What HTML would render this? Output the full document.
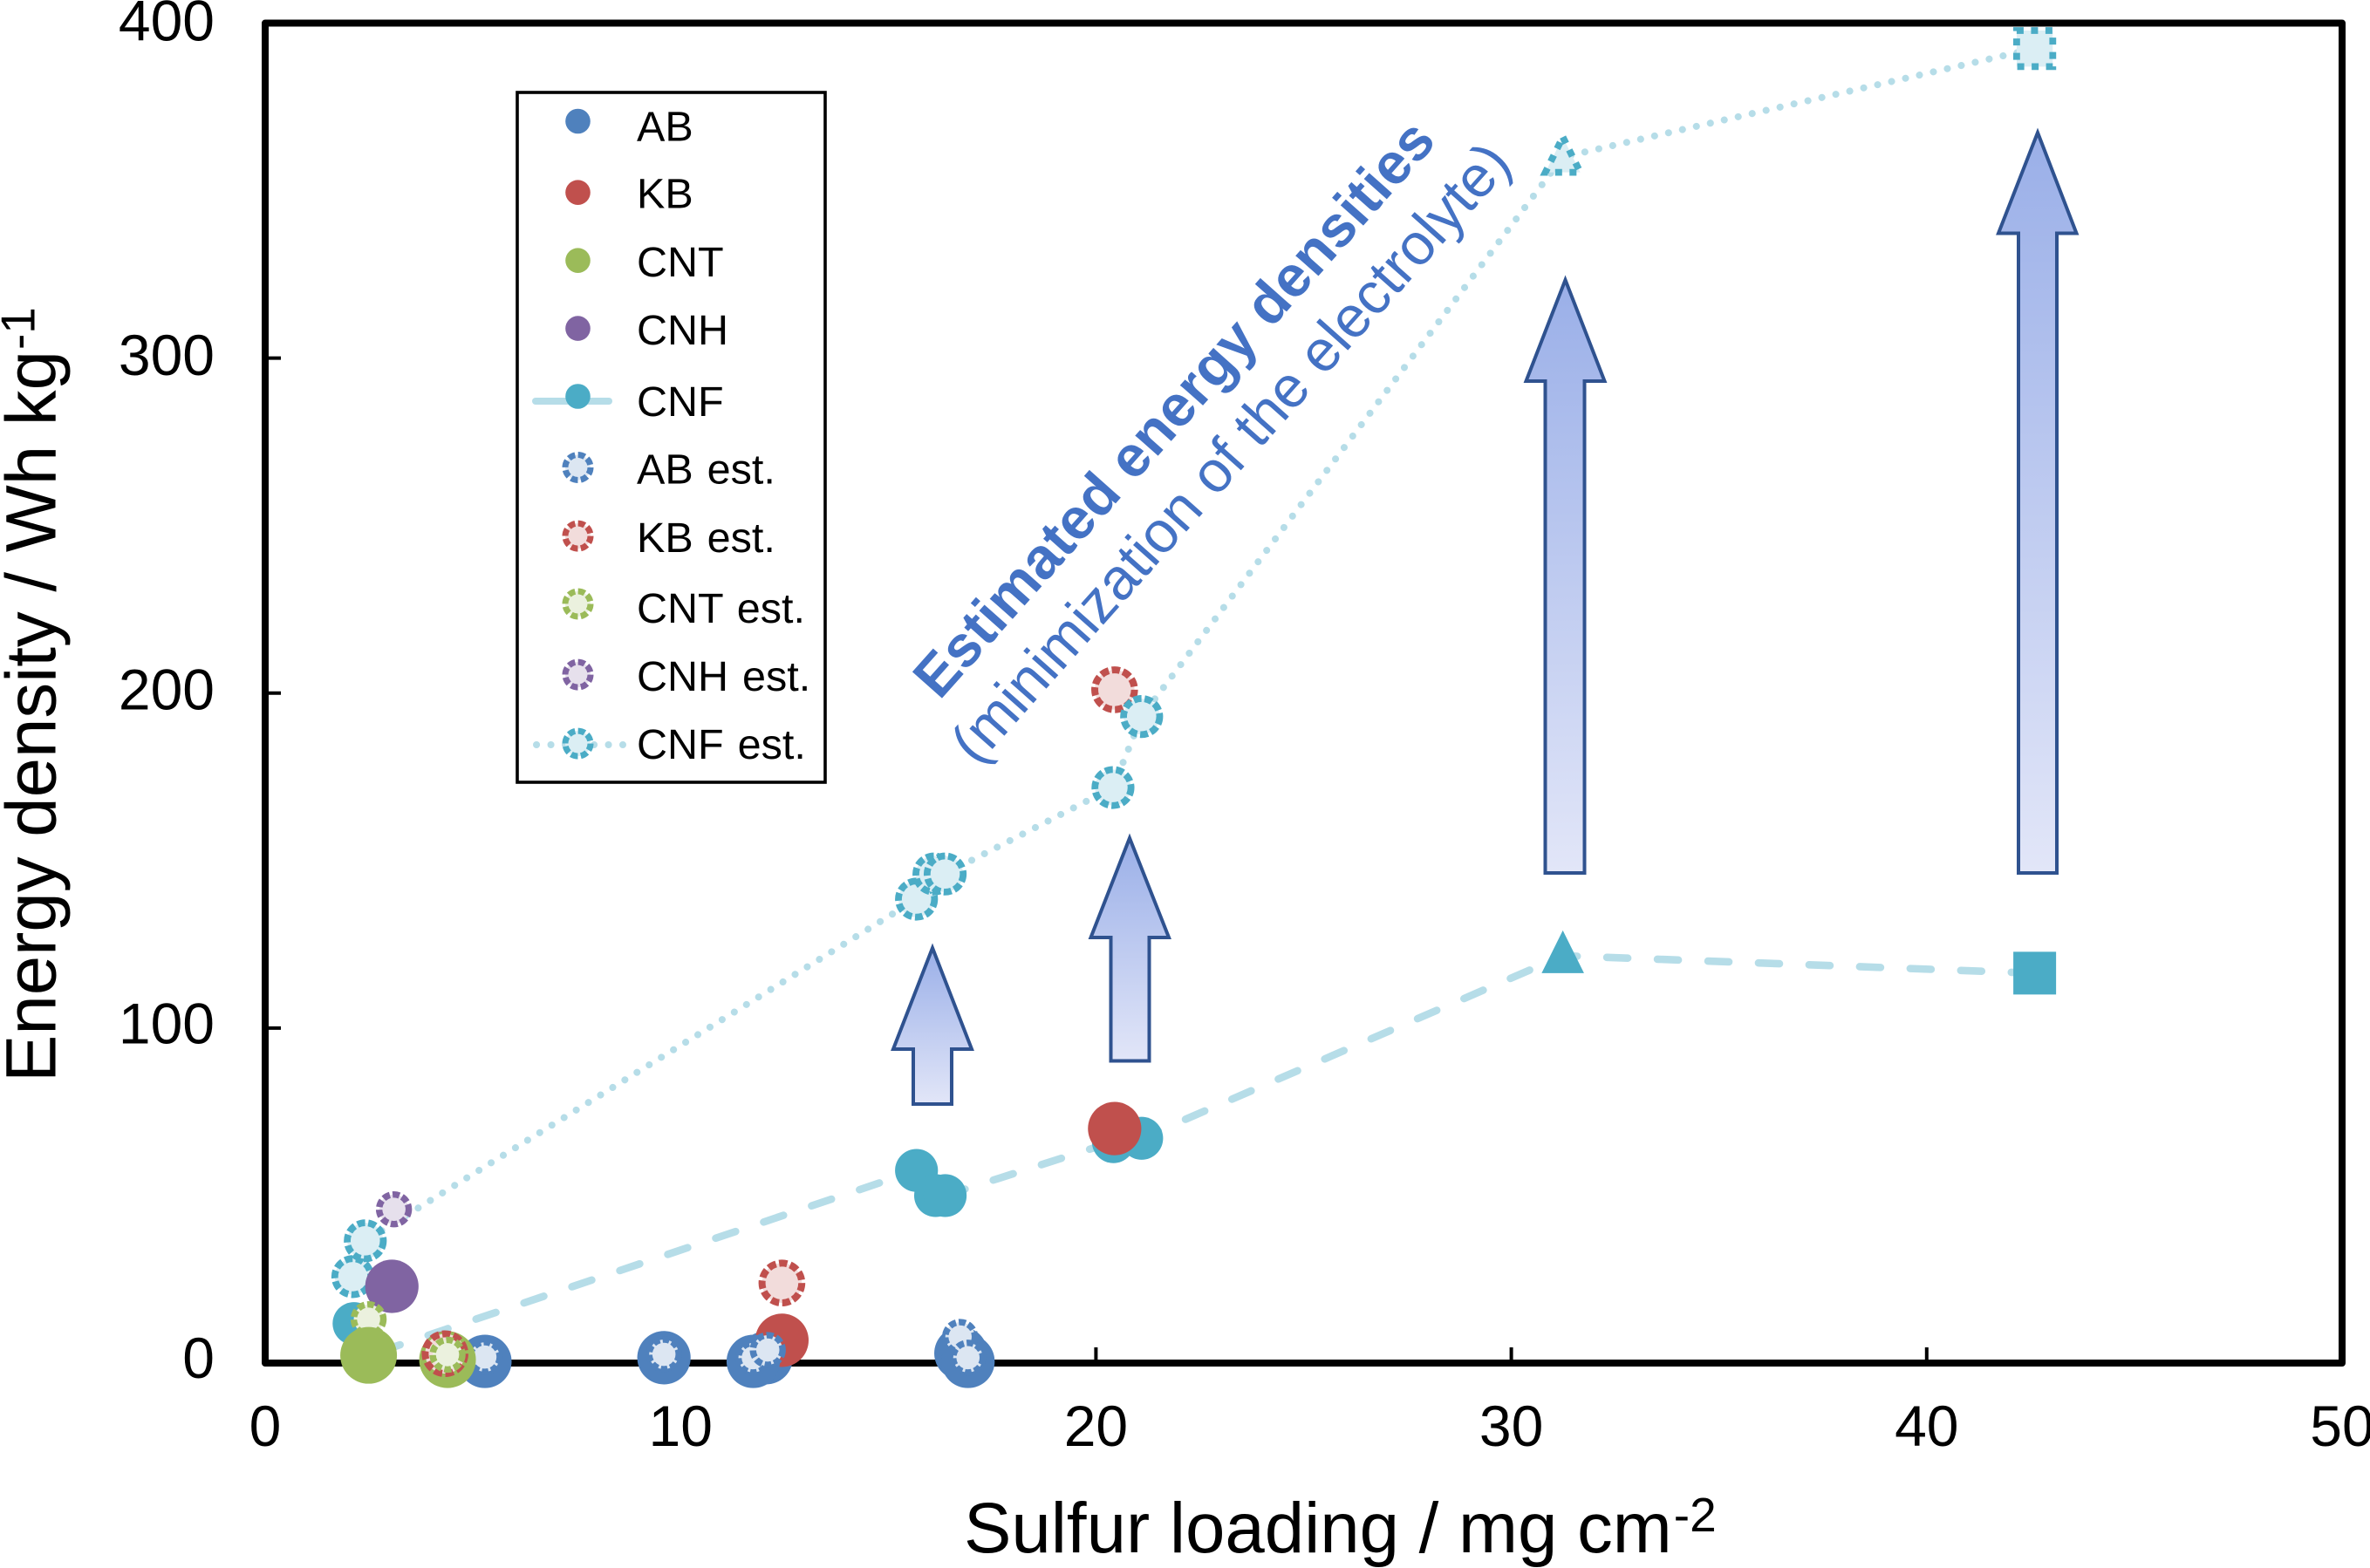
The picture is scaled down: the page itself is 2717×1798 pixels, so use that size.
<!DOCTYPE html>
<html lang="en">
<head>
<meta charset="utf-8">
<title>Energy density vs sulfur loading</title>
<style>
html,body{margin:0;padding:0;background:#fff;width:2717px;height:1798px;overflow:hidden}
svg{display:block;font-family:"Liberation Sans",Arial,sans-serif}
</style>
</head>
<body>
<svg id="chart" xmlns="http://www.w3.org/2000/svg" width="2717" height="1798" viewBox="0 0 2717 1798">
  <defs>
    <linearGradient id="arrowGrad" x1="0" y1="0" x2="0" y2="1">
      <stop offset="0" stop-color="#9aafe8"/>
      <stop offset="1" stop-color="#e2e6f8"/>
    </linearGradient>
  </defs>
  <rect width="2717" height="1798" fill="#fff"/>
  <g id="lines"></g>
  <g id="ticks"></g>
  <g id="arrows">
    <path d="M1069 1087L1114 1203H1091V1266H1047V1203H1024Z" fill="url(#arrowGrad)" stroke="#2f528f" stroke-width="4"/>
    <path d="M1295 961L1340 1075H1317.5V1216.5H1273.5V1075H1250.5Z" fill="url(#arrowGrad)" stroke="#2f528f" stroke-width="4"/>
    <path d="M1794.5 321L1839.5 437H1816.5V1001H1771.5V437H1749.5Z" fill="url(#arrowGrad)" stroke="#2f528f" stroke-width="4"/>
    <path d="M2336 152L2380.5 267.5H2358V1001H2314V267.5H2291Z" fill="url(#arrowGrad)" stroke="#2f528f" stroke-width="4"/>
  </g>
  <rect x="304" y="26.5" width="2381" height="1536.5" fill="none" stroke="#000" stroke-width="8" stroke-linejoin="round"/>
  <g id="marks"></g>

  <g id="tickLabels" font-size="66" fill="#000"></g>

  <text x="1105" y="1780" font-size="81.6" fill="#000">Sulfur loading / mg cm<tspan font-size="55" dx="2" dy="-24">-2</tspan></text>
  <text transform="translate(63.5 1241) rotate(-90)" x="0" y="0" font-size="81.6" fill="#000">Energy density / Wh kg<tspan font-size="55" dx="1" dy="-24">-1</tspan></text>

  <text transform="translate(1077 804) rotate(-48.3)" font-size="66.3" font-weight="700" fill="#4472c4">Estimated energy densities</text>
  <text transform="translate(1120 879) rotate(-48.3)" font-size="66.8" fill="#4472c4">(minimization of the electrolyte)</text>

  <g>
    <rect x="593" y="106" width="353" height="791" fill="#fff" stroke="#000" stroke-width="3.6"/>
    <line x1="614" y1="460" x2="698" y2="460" stroke="#b6dde8" stroke-width="8" stroke-linecap="round"/>
    <line x1="615" y1="854" x2="714" y2="854" stroke="#b6dde8" stroke-width="8" stroke-linecap="round" stroke-dasharray="0.1 16.4"/>

    <circle cx="662.5" cy="139" r="14.3" fill="#4f81bd"/>
    <circle cx="662.5" cy="220.7" r="14.3" fill="#c0504d"/>
    <circle cx="662.5" cy="298.7" r="14.3" fill="#9bbb59"/>
    <circle cx="662.5" cy="376.6" r="14.3" fill="#8064a2"/>
    <circle cx="662.5" cy="454.5" r="14.3" fill="#4bacc6"/>
    <circle cx="662.5" cy="536" r="14.5" fill="#dce6f2" stroke="#4f81bd" stroke-width="7" stroke-dasharray="8 3.4"/>
    <circle cx="662.5" cy="614.6" r="14.5" fill="#f2dcdb" stroke="#c0504d" stroke-width="7" stroke-dasharray="8 3.4"/>
    <circle cx="662.5" cy="692.5" r="14.5" fill="#ebf1de" stroke="#9bbb59" stroke-width="7" stroke-dasharray="8 3.4"/>
    <circle cx="662.5" cy="773.6" r="14.5" fill="#e6e0ec" stroke="#8064a2" stroke-width="7" stroke-dasharray="8 3.4"/>
    <circle cx="662.5" cy="852.6" r="14.5" fill="#dbeef4" stroke="#4bacc6" stroke-width="7" stroke-dasharray="8 3.4"/>

    <g font-size="48.5" fill="#000" word-spacing="2.5">
      <text x="730" y="161.5">AB</text>
      <text x="730" y="238.5">KB</text>
      <text x="730" y="317">CNT</text>
      <text x="730" y="395">CNH</text>
      <text x="730" y="477">CNF</text>
      <text x="730" y="554.5">AB est.</text>
      <text x="730" y="633">KB est.</text>
      <text x="730" y="714">CNT est.</text>
      <text x="730" y="792">CNH est.</text>
      <text x="730" y="870">CNF est.</text>
    </g>
  </g>
</svg>
<script>
// Axis tick labels
const xTickValues = [0, 10, 20, 30, 40, 50];
const yTickValues = [0, 100, 200, 300, 400];

// Measured series: sulfur loading (mg cm-2) and energy density (Wh kg-1)
const abX = [5.29, 9.60, 11.75, 12.06, 16.75, 16.92];
const abY = [0.5, 1.6, 0.5, 1.6, 2.9, 0.5];
const kbX = [4.37, 12.44, 20.45];
const kbY = [1.6, 6.8, 70];
const cntX = [2.49, 4.39];
const cntY = [2.3, 1.0];
const cnhX = [3.05];
const cnhY = [22.9];
const cnfX = [2.14, 2.49, 15.68, 16.14, 16.37, 20.42, 21.10, 31.24, 42.60];
const cnfY = [11.8, 2.3, 57.5, 50, 50, 66.1, 67.1, 121.6, 116.4];

// Estimated series
const abEstX = [5.29, 9.60, 11.75, 12.10, 16.73, 16.92];
const abEstY = [1.8, 2.6, 1.6, 3.9, 7.8, 1.6];
const kbEstX = [4.33, 12.44, 20.45];
const kbEstY = [2.8, 23.9, 201];
const cntEstX = [2.49, 4.39];
const cntEstY = [13.1, 2.5];
const cnhEstX = [3.10];
const cnhEstY = [45.9];
const cnfEstX = [2.11, 2.41, 15.68, 16.10, 16.37, 20.41, 21.10, 31.24, 42.60];
const cnfEstY = [25.8, 36.5, 138.5, 146, 146, 171.8, 193, 360, 392.4];

// Marker shape per CNF point (the same for the estimates)
const cnfShapes = ['circle','circle','circle','circle','circle','circle','circle','triangle','square'];

// Which CNF points the connecting lines run through (point indices)
const cnfLinePoints = [1, 2, 3, 4, 5, 6, 7, 8];
const cnfEstLinePoints = [0, 1, 2, 3, 4, 5, 6, 7, 8];

// Painter's order of the markers, "series:index"
const drawOrder = [
  'cnf:0','cnf:1','cnf:2','cnf:3','cnf:4','cnf:5','cnf:6','cnf:7','cnf:8',
  'ab:3','kb:0','kb:1','kb:2','ab:0','ab:1','ab:2','ab:4','ab:5',
  'kbEst:1','kbEst:2',
  'cnfEst:0','cnfEst:1','cnfEst:2','cnfEst:3','cnfEst:4','cnfEst:5','cnfEst:6','cnfEst:7','cnfEst:8',
  'abEst:0','abEst:1','abEst:2','abEst:4','abEst:5','abEst:3',
  'cnh:0','cnhEst:0','cntEst:0','cnt:0','cnt:1','kbEst:0','cntEst:1'
];

const NS = 'http://www.w3.org/2000/svg';
const X0 = 304, X1 = 2685, Y0 = 1563, Y1 = 26.5;
function xScale(v) { return X0 + (v / 50) * (X1 - X0); }
function yScale(v) { return Y0 + (v / 400) * (Y1 - Y0); }

function el(tag, attrs, parent) {
  const e = document.createElementNS(NS, tag);
  for (const k in attrs) e.setAttribute(k, attrs[k]);
  parent.appendChild(e);
  return e;
}

const styles = {
  ab:     {xs: abX, ys: abY, fill: '#4f81bd', r: 30.6},
  kb:     {xs: kbX, ys: kbY, fill: '#c0504d', r: 30.6},
  cnt:    {xs: cntX, ys: cntY, fill: '#9bbb59', r: 32.5},
  cnh:    {xs: cnhX, ys: cnhY, fill: '#8064a2', r: 30.6},
  cnf:    {xs: cnfX, ys: cnfY, fill: '#4bacc6', r: 24.6, shapes: cnfShapes},
  abEst:  {xs: abEstX, ys: abEstY, fill: '#dce6f2', stroke: '#4f81bd', r: 17, sw: 7.4, dash: '8 3.2'},
  kbEst:  {xs: kbEstX, ys: kbEstY, fill: '#f2dcdb', stroke: '#c0504d', r: 22.8, sw: 8, dash: '9.4 3.6'},
  cntEst: {xs: cntEstX, ys: cntEstY, fill: '#ebf1de', stroke: '#9bbb59', r: 17, sw: 7.4, dash: '8 3.2'},
  cnhEst: {xs: cnhEstX, ys: cnhEstY, fill: '#e6e0ec', stroke: '#8064a2', r: 17, sw: 7.4, dash: '8 3.2'},
  cnfEst: {xs: cnfEstX, ys: cnfEstY, fill: '#dbeef4', stroke: '#4bacc6', r: 20.7, sw: 7.8, dash: '9 3.6', shapes: cnfShapes}
};

// Connecting lines
const linesG = document.getElementById('lines');
function linePath(xs, ys, idx) {
  return idx.map((i, n) => (n ? 'L' : 'M') + xScale(xs[i]).toFixed(1) + ' ' + yScale(ys[i]).toFixed(1)).join('');
}
const cnfLine = el('path', {d: linePath(cnfX, cnfY, cnfLinePoints), fill: 'none', stroke: '#b6dde8', 'stroke-width': 8.6, 'stroke-linecap': 'round', 'stroke-linejoin': 'round', 'stroke-dasharray': '24 34', 'stroke-dashoffset': -14}, linesG);


const cnfEstLine = el('path', {d: linePath(cnfEstX, cnfEstY, cnfEstLinePoints), fill: 'none', stroke: '#b6dde8', 'stroke-width': 8, 'stroke-linecap': 'round', 'stroke-linejoin': 'round', 'stroke-dasharray': '0.1 16.3'}, linesG);



// Ticks and tick labels
const ticksG = document.getElementById('ticks');
const labelsG = document.getElementById('tickLabels');
xTickValues.forEach(v => {
  const x = xScale(v);
  if (v > 0 && v < 50) {
    const t = el('line', {x1: x, x2: x, y1: Y0, y2: Y0 - 18, stroke: '#000', 'stroke-width': 4}, ticksG);
    
    
  }
  const l = el('text', {x: x, y: 1658, 'text-anchor': 'middle'}, labelsG);
  l.textContent = v;
  
  
});
yTickValues.forEach(v => {
  const y = yScale(v);
  if (v > 0 && v < 400) {
    const t = el('line', {x1: X0, x2: X0 + 18, y1: y, y2: y, stroke: '#000', 'stroke-width': 4}, ticksG);
    
    
  }
  const l = el('text', {x: 246, y: y + 17 + v * 0.0075, 'text-anchor': 'end'}, labelsG);
  l.textContent = v;
  
  
});

// Markers
const marksG = document.getElementById('marks');
drawOrder.forEach(key => {
  const [name, idxStr] = key.split(':');
  const i = +idxStr;
  const s = styles[name];
  const cx = xScale(s.xs[i]);
  const cy = yScale(s.ys[i]);
  const shape = s.shapes ? s.shapes[i] : 'circle';
  const isEst = !!s.stroke;
  const attrs = {fill: s.fill};
  if (isEst) {
    attrs.stroke = s.stroke;
    attrs['stroke-width'] = s.sw;
    attrs['stroke-dasharray'] = shape === 'circle' ? s.dash : '8 8.5';
  }
  let m;
  if (shape === 'circle') {
    attrs.cx = cx; attrs.cy = cy; attrs.r = s.r;
    m = el('circle', attrs, marksG);
  } else if (shape === 'square') {
    const h = isEst ? 20.7 : 24.5;
    attrs.x = cx - h; attrs.y = cy - h; attrs.width = h * 2; attrs.height = h * 2;
    m = el('rect', attrs, marksG);
  } else {
    const up = isEst ? 23 : 29;
    const down = isEst ? 17.5 : 20;
    const half = isEst ? 20 : 24.3;
    attrs.d = 'M' + cx + ' ' + (cy - up) + 'L' + (cx + half) + ' ' + (cy + down) + 'L' + (cx - half) + ' ' + (cy + down) + 'Z';
    m = el('path', attrs, marksG);
  }
  
  
});
</script>
</body>
</html>
